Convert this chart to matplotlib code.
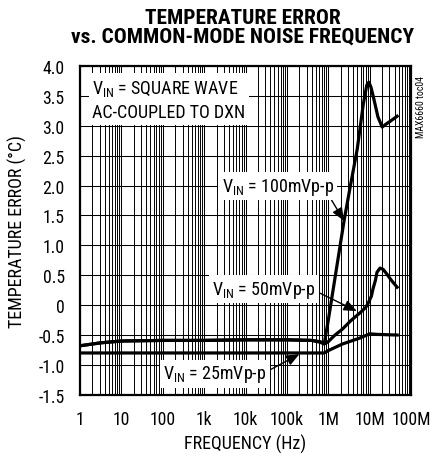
import numpy as np
import matplotlib
matplotlib.use("Agg")
import matplotlib.pyplot as plt
from matplotlib import font_manager
from matplotlib.ticker import LogLocator, FixedLocator, NullFormatter

# Data (frequency in Hz, temperature error in degC)
freq_100 = [1, 3.2, 10, 100, 1e3, 1e4, 1e5, 4e5, 6.3e5, 8e5, 1e6, 1.6e6, 2.4e6,
            3.3e6, 5e6, 7e6, 8.5e6, 9.5e6, 10.7e6, 12.6e6, 15.8e6, 20e6, 25e6,
            32e6, 46e6]
err_100 = [-0.68, -0.63, -0.60, -0.59, -0.59, -0.58, -0.58, -0.59, -0.61, -0.64,
           -0.25, 0.64, 1.41, 1.94, 2.61, 3.36, 3.68, 3.73, 3.65, 3.45, 3.15,
           2.98, 3.03, 3.08, 3.16]

freq_50 = [1, 3.2, 10, 100, 1e3, 1e4, 1e5, 4e5, 6.3e5, 8e5, 1e6, 1.4e6, 2.2e6,
           3.5e6, 5.8e6, 8e6, 9e6, 11e6, 12e6, 13.8e6, 15e6, 17.8e6, 21e6,
           26e6, 33e6, 46e6]
err_50 = [-0.68, -0.63, -0.60, -0.59, -0.59, -0.58, -0.58, -0.59, -0.62, -0.65,
          -0.61, -0.51, -0.40, -0.26, -0.13, -0.04, 0.02, 0.15, 0.27, 0.42,
          0.55, 0.62, 0.60, 0.52, 0.42, 0.30]

freq_25 = [1, 10, 100, 1e3, 1e4, 1e5, 8e5, 1e6, 2.2e6, 5.8e6, 10e6, 16e6, 46e6]
err_25 = [-0.80, -0.80, -0.80, -0.80, -0.80, -0.80, -0.80, -0.76, -0.65,
          -0.55, -0.48, -0.49, -0.50]

x_ticks = [1, 10, 100, 1e3, 1e4, 1e5, 1e6, 1e7, 1e8]
x_labels = ["1", "10", "100", "1k", "10k", "100k", "1M", "10M", "100M"]
y_ticks = [4.0, 3.5, 3.0, 2.5, 2.0, 1.5, 1.0, 0.5, 0, -0.5, -1.0, -1.5]
y_labels = ["4.0", "3.5", "3.0", "2.5", "2.0", "1.5", "1.0", "0.5", "0",
            "-0.5", "-1.0", "-1.5"]

# pick a condensed sans font if one is installed
entries = font_manager.fontManager.ttflist
names = {f.name for f in entries}
font = "Liberation Sans"
stretch = "normal"
shrink = 0.85
for cand in ["Roboto Condensed", "Liberation Sans Narrow", "Open Sans Condensed"]:
    if cand in names:
        font, shrink = cand, 1.0
        break
else:
    if any(f.name == "DejaVu Sans" and str(f.stretch) == "condensed" for f in entries):
        font, stretch, shrink = "DejaVu Sans", "condensed", 0.9

plt.rcParams["font.family"] = [font, "DejaVu Sans"]
plt.rcParams["font.stretch"] = stretch
plt.rcParams["mathtext.fontset"] = "custom"
plt.rcParams["mathtext.rm"] = font
plt.rcParams["mathtext.default"] = "rm"

fs = 13 * shrink

fig = plt.figure(figsize=(4.3, 4.56), dpi=100)
ax = fig.add_axes([0.186, 0.132, 0.770, 0.721])

ax.set_xscale("log")
ax.set_xlim(1, 1e8)
ax.set_ylim(-1.5, 4.0)

ax.xaxis.set_major_locator(FixedLocator(x_ticks))
ax.set_xticklabels(x_labels)
ax.xaxis.set_minor_locator(LogLocator(base=10, subs=np.arange(2, 10), numticks=20))
ax.xaxis.set_minor_formatter(NullFormatter())
ax.set_yticks(y_ticks)
ax.set_yticklabels(y_labels)
ax.tick_params(which="both", length=0, labelsize=fs - 0.3)
ax.tick_params(axis="x", pad=11)
ax.tick_params(axis="y", pad=11)

ax.grid(which="major", axis="both", color="black", linewidth=0.75)
ax.grid(which="minor", axis="x", color="black", linewidth=0.7)
for s in ax.spines.values():
    s.set_linewidth(1.6)

ax.plot(freq_25, err_25, color="black", linewidth=2.3, zorder=3)
ax.plot(freq_50, err_50, color="black", linewidth=2.3, zorder=3)
ax.plot(freq_100, err_100, color="black", linewidth=2.3, zorder=3)

box = dict(facecolor="white", edgecolor="none", pad=2.5)
arrow = dict(arrowstyle="-|>,head_length=0.6,head_width=0.25", color="black",
             linewidth=1.0, shrinkA=0, shrinkB=0)

ax.text(2.0, 3.44, "V$_{IN}$ = SQUARE WAVE\nAC-COUPLED TO DXN", fontsize=fs,
        ha="left", va="center", linespacing=1.4, bbox=box, zorder=4)

ax.annotate("V$_{IN}$ = 100mVp-p", xy=(2.4e6, 1.41), xytext=(6.0e4, 1.99),
            fontsize=fs, ha="center", va="center", bbox=box, zorder=4,
            arrowprops=dict(arrow, relpos=(0.95, 0.1)))
ax.annotate("V$_{IN}$ = 50mVp-p", xy=(4.9e6, -0.10), xytext=(2.8e4, 0.27),
            fontsize=fs, ha="center", va="center", bbox=box, zorder=4,
            arrowprops=dict(arrow, relpos=(1.0, 0.4)))
ax.annotate("V$_{IN}$ = 25mVp-p", xy=(2.0e5, -0.82), xytext=(1.8e3, -1.15),
            fontsize=fs, ha="center", va="center", bbox=box, zorder=4,
            arrowprops=dict(arrow, relpos=(1.0, 0.6)))

fig.text(0.565, 0.939, "TEMPERATURE ERROR\nvs. COMMON-MODE NOISE FREQUENCY",
         ha="center", va="center", fontsize=15.4 * shrink, fontweight="heavy",
         linespacing=1.0)
fig.text(0.04, 0.493, "TEMPERATURE ERROR (°C)", rotation=90, ha="center",
         va="center", fontsize=fs)
fig.text(0.57, 0.026, "FREQUENCY (Hz)", ha="center", va="center", fontsize=fs)
fig.text(0.979, 0.765, "MAX6660 toc04", rotation=90, ha="center", va="center",
         fontsize=7)

fig.savefig("out.png", dpi=100)
